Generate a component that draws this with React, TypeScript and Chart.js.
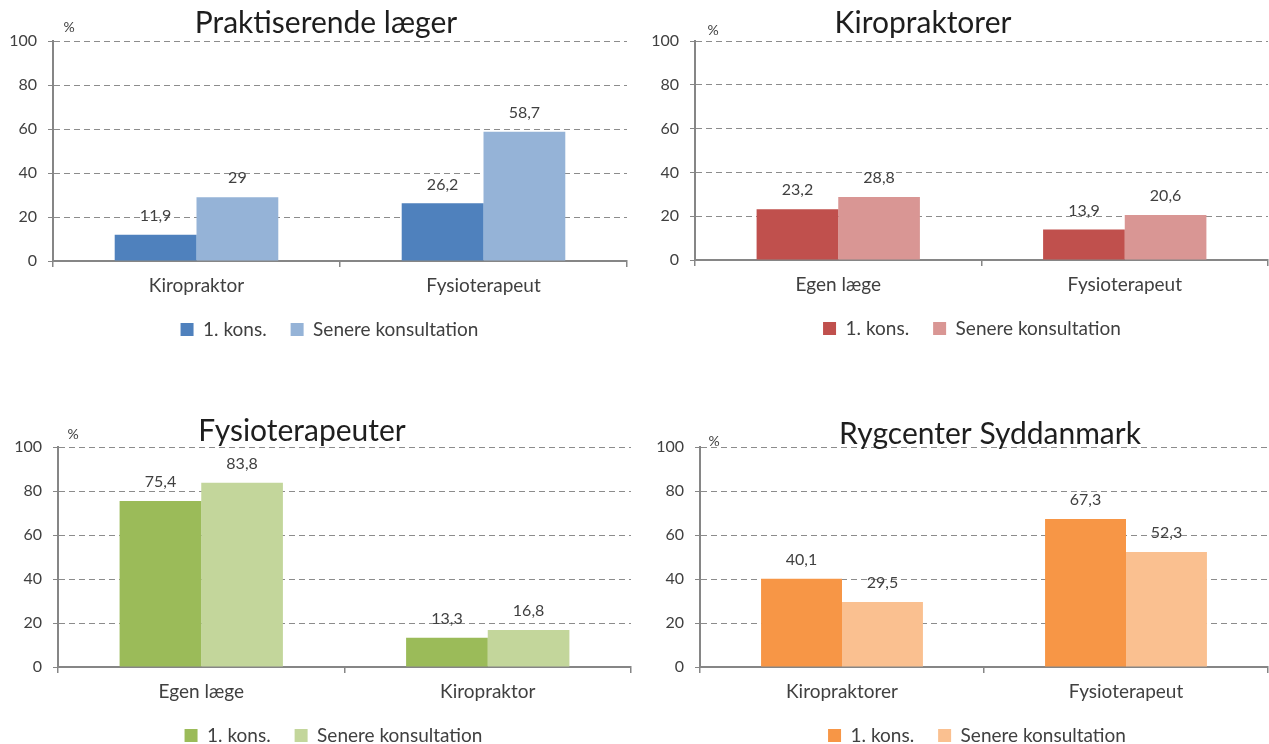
import React, { useEffect, useRef } from 'react';
import { Chart, registerables } from 'chart.js';

Chart.register(...registerables);

// ---- data ----
const seriesNames = ['1. kons.', 'Senere konsultation'];
const chartTitles = ['Praktiserende læger', 'Kiropraktorer', 'Fysioterapeuter', 'Rygcenter Syddanmark'];

const categoriesA = ['Kiropraktor', 'Fysioterapeut'];
const firstA = [11.9, 26.2];
const laterA = [29, 58.7];

const categoriesB = ['Egen læge', 'Fysioterapeut'];
const firstB = [23.2, 13.9];
const laterB = [28.8, 20.6];

const categoriesC = ['Egen læge', 'Kiropraktor'];
const firstC = [75.4, 13.3];
const laterC = [83.8, 16.8];

const categoriesD = ['Kiropraktorer', 'Fysioterapeut'];
const firstD = [40.1, 67.3];
const laterD = [29.5, 52.3];

const yMin = 0;
const yMax = 100;
const yStep = 20;
const unitLabel = '%';

// ---- layout / style ----
const FONT = 'Lato, "Open Sans", sans-serif';

type PanelCfg = {
  title: string;
  cats: string[];
  a: number[];
  b: number[];
  colors: [string, string];
  left: number;
  top: number;
  width: number;
  height: number;
  padRight: number;
  padTop: number;
  yWidth: number;
  legendShift: number;
  titleX: number;
  titleY: number;
  pctX: number;
  pctY: number;
};

const panels: PanelCfg[] = [
  {
    title: chartTitles[0], cats: categoriesA, a: firstA, b: laterA,
    colors: ['#4F81BD', '#95B3D7'],
    left: 0, top: 0, width: 634, height: 349,
    padRight: 7, padTop: 41, yWidth: 53, legendShift: 16,
    titleX: 326, titleY: 33, pctX: 69, pctY: 27,
  },
  {
    title: chartTitles[1], cats: categoriesB, a: firstB, b: laterB,
    colors: ['#C0504D', '#D99694'],
    left: 640, top: 0, width: 629, height: 348,
    padRight: 1, padTop: 41, yWidth: 55, legendShift: 18,
    titleX: 923, titleY: 33, pctX: 713, pctY: 30,
  },
  {
    title: chartTitles[2], cats: categoriesC, a: firstC, b: laterC,
    colors: ['#9BBB59', '#C3D69B'],
    left: 0, top: 395, width: 640, height: 360,
    padRight: 9, padTop: 52, yWidth: 58, legendShift: 18,
    titleX: 302, titleY: 441, pctX: 73, pctY: 434,
  },
  {
    title: chartTitles[3], cats: categoriesD, a: firstD, b: laterD,
    colors: ['#F79646', '#FAC090'],
    left: 640, top: 395, width: 629, height: 360,
    padRight: 1, padTop: 52, yWidth: 60, legendShift: 23,
    titleX: 990, titleY: 444, pctX: 714, pctY: 441,
  },
];

const fmt = (v: number) => String(v).replace('.', ',');

function Panel({ cfg }: { cfg: PanelCfg }) {
  const ref = useRef<HTMLCanvasElement>(null);

  useEffect(() => {
    const canvas = ref.current;
    if (!canvas) return;

    const overlay = {
      id: 'overlay',
      afterLayout(chart: any) {
        const lg = chart.legend;
        if (lg) {
          lg.left += cfg.legendShift;
          lg.right += cfg.legendShift;
        }
      },
      afterDatasetsDraw(chart: any) {
        const ctx = chart.ctx;
        ctx.save();
        ctx.font = `16px ${FONT}`;
        ctx.fillStyle = '#404040';
        ctx.textAlign = 'center';
        ctx.textBaseline = 'middle';
        chart.data.datasets.forEach((ds: any, di: number) => {
          const meta = chart.getDatasetMeta(di);
          meta.data.forEach((el: any, i: number) => {
            ctx.fillText(fmt(ds.data[i]), el.x, el.y - 19);
          });
        });
        ctx.restore();
      },
      afterDraw(chart: any) {
        const ctx = chart.ctx;
        ctx.save();
        ctx.fillStyle = '#1e1e1e';
        ctx.font = `30px ${FONT}`;
        ctx.textAlign = 'center';
        ctx.textBaseline = 'alphabetic';
        ctx.fillText(cfg.title, cfg.titleX - cfg.left, cfg.titleY - cfg.top);
        ctx.font = `14px ${FONT}`;
        ctx.fillStyle = '#404040';
        ctx.textBaseline = 'middle';
        ctx.fillText(unitLabel, cfg.pctX - cfg.left, cfg.pctY - cfg.top);
        ctx.restore();
      },
    };

    const chart = new Chart(canvas, {
      type: 'bar',
      data: {
        labels: cfg.cats,
        datasets: [
          { label: seriesNames[0], data: cfg.a, backgroundColor: cfg.colors[0], borderWidth: 0 },
          { label: seriesNames[1], data: cfg.b, backgroundColor: cfg.colors[1], borderWidth: 0 },
        ],
      },
      options: {
        responsive: false,
        animation: false,
        devicePixelRatio: 1,
        layout: { padding: { left: 0, right: cfg.padRight, top: cfg.padTop, bottom: 0 } },
        datasets: { bar: { barPercentage: 1, categoryPercentage: 0.57 } },
        scales: {
          x: {
            offset: true,
            grid: { display: true, drawOnChartArea: false, drawTicks: true, tickLength: 6, color: '#868686', tickColor: '#868686', lineWidth: 1.5, offset: true },
            border: { display: true, color: '#868686', width: 2 },
            ticks: { color: '#404040', font: { size: 19, family: FONT }, padding: 7 },
            afterFit: (s: any) => { s.height = 35; },
          },
          y: {
            min: yMin,
            max: yMax,
            ticks: { stepSize: yStep, color: '#404040', font: { size: 16, family: FONT }, padding: 11 },
            grid: { color: '#8C8C8C', lineWidth: 1, tickLength: 5, tickColor: '#868686', drawTicks: true },
            border: { display: true, color: '#868686', width: 2, dash: [6, 4] },
            afterFit: (s: any) => { s.width = cfg.yWidth; },
          },
        },
        plugins: {
          legend: {
            position: 'bottom',
            labels: { boxWidth: 13, boxHeight: 13, color: '#404040', font: { size: 19, family: FONT }, padding: 24 },
          },
          title: { display: false },
          tooltip: { enabled: false },
        },
      },
      plugins: [overlay],
    } as any);

    return () => chart.destroy();
  }, [cfg]);

  return (
    <canvas
      ref={ref}
      width={cfg.width}
      height={cfg.height}
      style={{ position: 'absolute', left: cfg.left, top: cfg.top }}
    />
  );
}

export default function App() {
  return (
    <div style={{ position: 'fixed', left: 0, top: 0, width: 1269, height: 744, overflow: 'hidden', background: '#ffffff' }}>
      {panels.map((p, i) => (
        <Panel key={i} cfg={p} />
      ))}
    </div>
  );
}
